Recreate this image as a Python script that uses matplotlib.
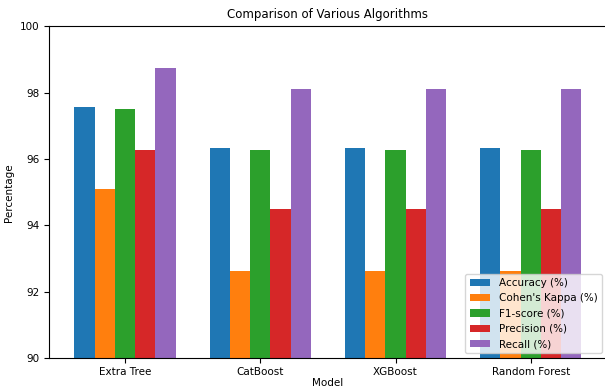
import matplotlib
matplotlib.use("Agg")
import matplotlib.pyplot as plt
import numpy as np

models = ["Extra Tree", "CatBoost", "XGBoost", "Random Forest"]
metrics = ["Accuracy (%)", "Cohen's Kappa (%)", "F1-score (%)", "Precision (%)", "Recall (%)"]

accuracy = [97.56, 96.33, 96.33, 96.33]
kappa = [95.09, 92.63, 92.63, 92.63]
f1_score = [97.50, 96.27, 96.27, 96.27]
precision = [96.28, 94.49, 94.49, 94.49]
recall = [98.73, 98.10, 98.10, 98.10]

series = [accuracy, kappa, f1_score, precision, recall]
colors = ["#1f77b4", "#ff7f0e", "#2ca02c", "#d62728", "#9467bd"]

fig = plt.figure(figsize=(6.05, 3.9), dpi=100)
ax = fig.add_axes([0.081, 0.081, 0.922, 0.852])

x = np.arange(len(models))
bar_width = 0.15
for i, (label, values) in enumerate(zip(metrics, series)):
    offset = (i - 2) * bar_width
    ax.bar(x + offset, values, bar_width, label=label, color=colors[i])

ax.set_ylim(90, 100)
ax.set_xticks(x)
ax.set_xticklabels(models, fontsize=7.5)
ax.tick_params(axis="y", labelsize=7.5)
ax.tick_params(axis="x", pad=2.5)
ax.set_xlabel("Model", fontsize=7.5, labelpad=1)
ax.set_ylabel("Percentage", fontsize=7.5)
ax.set_title("Comparison of Various Algorithms", fontsize=8.5)
ax.spines["right"].set_visible(False)
ax.legend(loc="lower right", fontsize=7.5)

fig.savefig("out.png", dpi=100)
